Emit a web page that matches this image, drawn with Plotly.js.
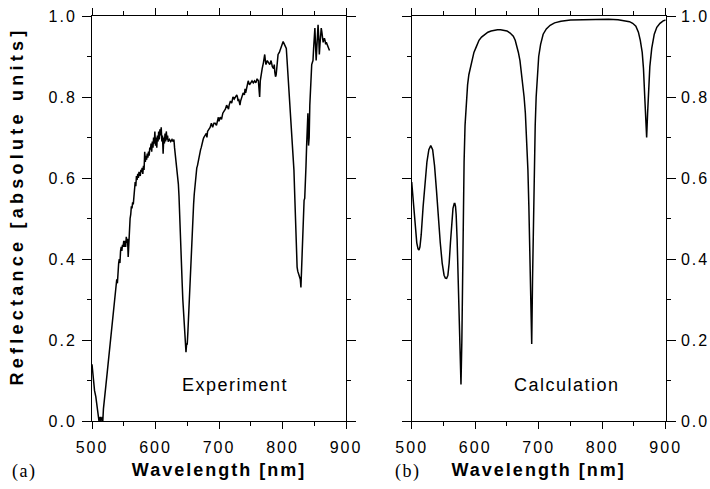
<!DOCTYPE html>
<html>
<head>
<meta charset="utf-8">
<script src="https://cdn.plot.ly/plotly-3.0.1.min.js"></script>
<style>
html,body{margin:0;padding:0;background:#fff;}
.xtick text,.x2tick text,.ytick text,.y2tick text{letter-spacing:2px;}
text.xtitle,text.x2title{letter-spacing:2px;}
.annotation-text{letter-spacing:1.5px;}
.annotation[data-index="4"] .annotation-text{letter-spacing:4.25px;}
</style>
</head>
<body>
<div id="chart" style="width:710px;height:489px;"></div>
<script>
// Experiment (a): wavelength [nm] and reflectance
const expWavelength = [500,502,504,506,508,510,511,513,514,516,517,518,519,520,522,524,526,528,530,532,534,536,537,538,539,540,541,542,543,544,545,546,547,548,549,550,551,552,553,554,555,556,557,558,559,560,561,562,563,564,565,566,567,568,569,570,571,572,573,574,576,577,578,579,580,581,582,583,584,585,586,587,588,589,590,591,592,593,594,595,596,597,598,599,600,601,602,603,604,605,606,607,608,609,610,611,612,613,614,615,616,617,618,619,620,622,624,626,628,629,630,631,632,633,634,635,636,637,638,639,640,641,642,643,644,645,646,647,648,649,650,651,652,653,654,655,656,657,658,659,660,661,662,663,664,665,666,667,668,669,670,671,672,673,674,675,676,678,680,681,682,684,686,688,690,692,694,696,698,699,700,702,704,706,708,710,712,713,715,716,718,720,722,724,726,728,729,730,731,733,734,736,738,740,741,742,744,746,748,750,752,754,756,758,760,762,763,764,765,767,768,770,772,773,774,776,778,780,782,784,786,787,788,789,790,791,792,793,795,797,799,801,803,805,806,807,808,809,810,811,812,813,814,815,816,817,818,819,820,821,822,823,824,825,826,827,828,829,830,831,832,833,834,835,836,837,838,839,840,841,842,843,844,845,846,847,848,849,850,851,852,853,854,855,856,857,858,859,860,861,862,863,864,865,866,867,868,869,870,871,872,874];
const expReflectance = [0.14,0.10,0.075,0.06,0.04,0.02,0.0,0.01,0.0,0.01,0.0,0.03,0.05,0.055,0.09,0.12,0.15,0.18,0.21,0.24,0.27,0.30,0.32,0.33,0.35,0.34,0.38,0.39,0.40,0.39,0.42,0.43,0.42,0.435,0.43,0.445,0.43,0.445,0.43,0.455,0.44,0.45,0.405,0.45,0.47,0.50,0.51,0.53,0.525,0.54,0.535,0.56,0.585,0.59,0.58,0.605,0.595,0.61,0.60,0.615,0.605,0.62,0.615,0.625,0.61,0.63,0.62,0.665,0.64,0.655,0.645,0.66,0.65,0.665,0.655,0.675,0.67,0.685,0.665,0.69,0.675,0.70,0.685,0.715,0.68,0.70,0.675,0.705,0.69,0.715,0.695,0.72,0.705,0.725,0.69,0.705,0.66,0.70,0.685,0.71,0.69,0.715,0.695,0.705,0.69,0.695,0.69,0.695,0.69,0.695,0.675,0.66,0.655,0.645,0.63,0.61,0.585,0.555,0.52,0.48,0.43,0.38,0.34,0.30,0.27,0.255,0.225,0.195,0.17,0.19,0.19,0.22,0.26,0.30,0.34,0.38,0.42,0.45,0.48,0.51,0.535,0.56,0.575,0.595,0.62,0.625,0.63,0.64,0.645,0.655,0.66,0.67,0.675,0.685,0.69,0.695,0.70,0.705,0.71,0.70,0.715,0.72,0.725,0.735,0.725,0.735,0.735,0.73,0.745,0.75,0.74,0.75,0.745,0.76,0.765,0.77,0.78,0.775,0.77,0.78,0.79,0.785,0.80,0.795,0.80,0.805,0.80,0.79,0.795,0.78,0.79,0.80,0.81,0.805,0.82,0.81,0.825,0.84,0.83,0.835,0.84,0.835,0.84,0.835,0.845,0.84,0.82,0.80,0.84,0.865,0.87,0.885,0.905,0.89,0.88,0.89,0.885,0.88,0.89,0.875,0.87,0.88,0.86,0.85,0.855,0.875,0.895,0.905,0.91,0.92,0.925,0.937,0.93,0.925,0.92,0.895,0.87,0.85,0.83,0.81,0.79,0.76,0.73,0.71,0.69,0.665,0.62,0.57,0.51,0.45,0.40,0.38,0.37,0.365,0.36,0.355,0.35,0.33,0.37,0.42,0.49,0.53,0.545,0.55,0.58,0.63,0.68,0.72,0.76,0.68,0.70,0.78,0.83,0.86,0.88,0.885,0.89,0.92,0.95,0.97,0.93,0.89,0.92,0.96,0.978,0.95,0.905,0.93,0.955,0.97,0.96,0.945,0.935,0.94,0.945,0.94,0.93,0.935,0.93,0.925,0.92,0.915];

// Calculation (b)
const calcWavelength = [500,502,504,506,508,510,511.5,513,515,518,521,524,527,530,533,536,539,542,545,548,551,553,555,557,559,561,563,565,567,568,569,570,571.5,573,574.5,576,577.6,579,580,581,582.5,584,586,588,590,592,595,598,602,606,610,615,620,625,630,635,640,645,650,655,660,663,666,668,670.5,673,675,677,679,681,683,684.5,686,687.5,689,690.3,691.5,693,694.5,696,698,700,703,707,712,718,725,735,750,770,790,810,825,835,843,848,853,857,860,863,865,867,868.5,870,871.5,873,875,878,882,886,891,896,900];
const calcReflectance = [0.59,0.55,0.51,0.47,0.44,0.425,0.422,0.43,0.46,0.53,0.59,0.64,0.67,0.68,0.67,0.63,0.57,0.50,0.44,0.39,0.36,0.353,0.352,0.36,0.39,0.44,0.49,0.525,0.537,0.537,0.53,0.51,0.45,0.36,0.25,0.15,0.09,0.2,0.35,0.5,0.64,0.73,0.79,0.83,0.855,0.87,0.895,0.91,0.925,0.94,0.948,0.955,0.96,0.963,0.965,0.966,0.966,0.965,0.963,0.958,0.95,0.94,0.925,0.91,0.89,0.86,0.83,0.80,0.76,0.70,0.62,0.53,0.42,0.30,0.19,0.35,0.50,0.65,0.73,0.80,0.86,0.90,0.93,0.955,0.968,0.977,0.983,0.987,0.99,0.991,0.992,0.992,0.991,0.989,0.986,0.982,0.975,0.96,0.94,0.91,0.87,0.80,0.75,0.70,0.76,0.83,0.875,0.92,0.955,0.972,0.982,0.988,0.99];

const xTickVals = [500,600,700,800,900];
const xTickText = ["500","600","700","800","900"];
const yTickVals = [0,0.2,0.4,0.6,0.8,1.0];
const yTickText = ["0.0","0.2","0.4","0.6","0.8","1.0"];

const FONT = "Arial, 'Liberation Sans', sans-serif";
const SERIF = "'Liberation Serif', 'Times New Roman', serif";

const traces = [
  {x: expWavelength, y: expReflectance, type:'scatter', mode:'lines', line:{color:'#000', width:1.5}, xaxis:'x', yaxis:'y', showlegend:false, hoverinfo:'skip'},
  {x: calcWavelength, y: calcReflectance, type:'scatter', mode:'lines', line:{color:'#000', width:1.5}, xaxis:'x2', yaxis:'y2', showlegend:false, hoverinfo:'skip'}
];

function xax(domain, anchor){
  return {
    domain: domain, anchor: anchor, range:[500,900], autorange:false,
    tickmode:'array', tickvals:xTickVals, ticktext:xTickText,
    ticks:'outside', ticklen:7, tickwidth:1, tickcolor:'#000',
    minor:{dtick:50, tick0:500, ticks:'outside', ticklen:4, tickwidth:1, tickcolor:'#000', showgrid:false},
    showline:true, linecolor:'#000', linewidth:1, mirror:'allticks',
    showgrid:false, zeroline:false,
    tickfont:{family:FONT, size:16, color:'#000'},
    ticklabelstandoff: 5,
    title:{text:'Wavelength [nm]', font:{family:FONT, size:18, color:'#000', weight:'bold'}, standoff:8}
  };
}
function yax(domain, anchor, side){
  return {
    domain: domain, anchor: anchor, side: side, range:[0,1], autorange:false,
    tickmode:'array', tickvals:yTickVals, ticktext:yTickText,
    ticks:'outside', ticklen:9, tickwidth:1, tickcolor:'#000',
    minor:{dtick:0.1, tick0:0, ticks:'outside', ticklen:4, tickwidth:1, tickcolor:'#000', showgrid:false},
    showline:true, linecolor:'#000', linewidth:1, mirror:'allticks',
    showgrid:false, zeroline:false,
    tickfont:{family:FONT, size:16, color:'#000'},
    ticklabelstandoff: 2
  };
}

const layout = {
  width:710, height:489,
  margin:{l:0, r:0, t:16, b:68, pad:0},
  paper_bgcolor:'#fff', plot_bgcolor:'#fff',
  xaxis: xax([92/710, 346/710], 'y'),
  yaxis: yax([0,1], 'x', 'left'),
  xaxis2: xax([411.7/710, 665.7/710], 'y2'),
  yaxis2: yax([0,1], 'x2', 'right'),
  showlegend:false,
  annotations:[
    {text:'Experiment', xref:'x', yref:'y', x:725, y:0.09, showarrow:false, font:{family:FONT, size:18, color:'#000'}},
    {text:'Calculation', xref:'x2', yref:'y2', x:745, y:0.09, showarrow:false, font:{family:FONT, size:18, color:'#000'}},
    {text:'(a)', xref:'paper', yref:'paper', x:10/710, y:0, yshift:-38, xanchor:'left', yanchor:'top', showarrow:false, font:{family:SERIF, size:18, color:'#000'}},
    {text:'(b)', xref:'paper', yref:'paper', x:393/710, y:0, yshift:-38, xanchor:'left', yanchor:'top', showarrow:false, font:{family:SERIF, size:18, color:'#000'}},
    {text:'Reflectance [absolute units]', xref:'paper', yref:'paper', x:17/710, y:(421-206)/405, yanchor:'middle', xanchor:'center', textangle:-90, showarrow:false, font:{family:FONT, size:18, color:'#000', weight:'bold'}}
  ]
};

Plotly.newPlot('chart', traces, layout, {staticPlot:true, displayModeBar:false});
</script>
</body>
</html>
